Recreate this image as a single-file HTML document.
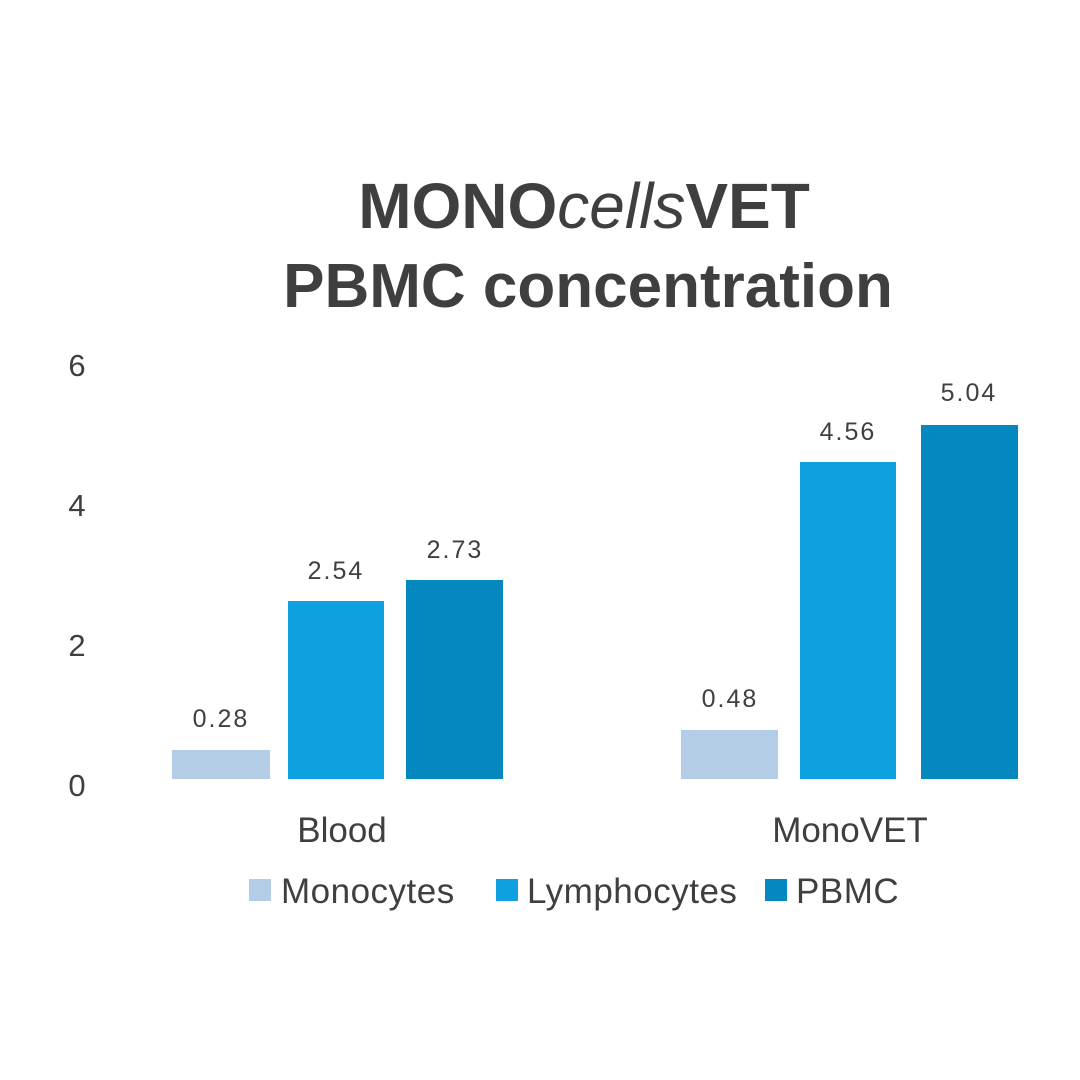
<!DOCTYPE html>
<html><head><meta charset="utf-8"><style>
body{margin:0;background:#fff;}
svg{display:block}
text{font-family:"Liberation Sans","DejaVu Sans",sans-serif;fill:#3f3f3f}
</style></head><body>
<svg width="1080" height="1080" viewBox="0 0 1080 1080">
<text x="584" y="228" font-size="64" font-weight="bold" text-anchor="middle">MONO<tspan font-style="italic" font-weight="normal">cells</tspan>VET</text>
<text x="588" y="307" font-size="62" font-weight="bold" text-anchor="middle">PBMC concentration</text>
<g font-size="31" text-anchor="middle">
<text x="77" y="376">6</text><text x="77" y="516">4</text><text x="77" y="656">2</text><text x="77" y="796">0</text>
</g>
<rect x="172" y="750" width="98" height="29" fill="#b3cde7"/>
<rect x="288" y="601" width="96" height="178" fill="#0fa0e0"/>
<rect x="406" y="580" width="97" height="199" fill="#0588bf"/>
<rect x="681" y="730" width="97" height="49" fill="#b3cde7"/>
<rect x="800" y="462" width="96" height="317" fill="#0fa0e0"/>
<rect x="921" y="425" width="97" height="354" fill="#0588bf"/>
<g font-size="25" text-anchor="middle" letter-spacing="2">
<text x="221" y="727">0.28</text><text x="336" y="579">2.54</text><text x="455" y="558">2.73</text>
<text x="730" y="707">0.48</text><text x="848" y="440">4.56</text><text x="969" y="401">5.04</text>
</g>
<g font-size="35" text-anchor="middle">
<text x="342" y="842">Blood</text><text x="850" y="842">MonoVET</text>
</g>
<rect x="249" y="879" width="22" height="22" fill="#b3cde7"/>
<rect x="496" y="879" width="22" height="22" fill="#0fa0e0"/>
<rect x="765" y="879" width="22" height="22" fill="#0588bf"/>
<g font-size="35" letter-spacing="0.5">
<text x="281" y="903">Monocytes</text><text x="527" y="903">Lymphocytes</text><text x="796" y="903">PBMC</text>
</g>
</svg>
</body></html>
